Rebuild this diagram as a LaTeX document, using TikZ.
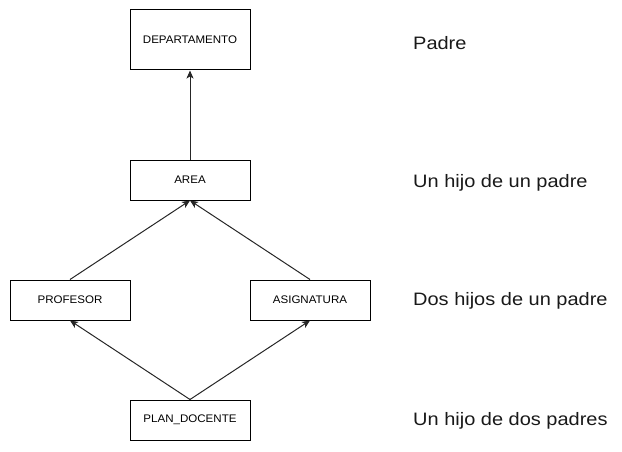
\documentclass[tikz,border=0pt]{standalone}
\usepackage{fontspec}
\setmainfont{Liberation Sans}
\newfontfamily\lblfont[FakeStretch=1.11]{Liberation Sans}
\newfontfamily\boxfont[FakeStretch=1.05]{Liberation Sans}
\usetikzlibrary{arrows.meta}
\begin{document}
\begin{tikzpicture}[x=1pt,y=-1pt,
  box/.style={draw=black,line width=1pt,fill=white,minimum width=120pt,inner sep=0pt,font=\boxfont\fontsize{11}{13}\selectfont},
  lbl/.style={anchor=west,inner sep=0pt,text=black!90,font=\lblfont\fontsize{18}{22}\selectfont},
  arr/.style={draw=black!85,line width=1pt,-{Stealth[length=8pt,width=7pt,inset=2pt]}}]
\useasboundingbox (0,0) rectangle (622,452);
\node[box,minimum height=60pt] (dep) at (190,40) {DEPARTAMENTO};
\node[box,minimum height=40pt] (area) at (190,180) {AREA};
\node[box,minimum height=40pt] (prof) at (70,300) {PROFESOR};
\node[box,minimum height=40pt] (asig) at (310,300) {ASIGNATURA};
\node[box,minimum height=40pt] (plan) at (190,420) {PLAN\_DOCENTE};
\node[lbl] (l1) at (413,43) {Padre};
\node[lbl] (l2) at (413,183) {Un hijo de un padre};
\node[lbl] (l3) at (413,301) {Dos hijos de un padre};
\node[lbl] (l4) at (413,421) {Un hijo de dos padres};
\draw[arr] (area.north) -- (dep.south);
\draw[arr] (prof.north) -- (area.south);
\draw[arr] (asig.north) -- (area.south);
\draw[arr] (plan.north) -- (prof.south);
\draw[arr] (plan.north) -- (asig.south);
\end{tikzpicture}
\end{document}
